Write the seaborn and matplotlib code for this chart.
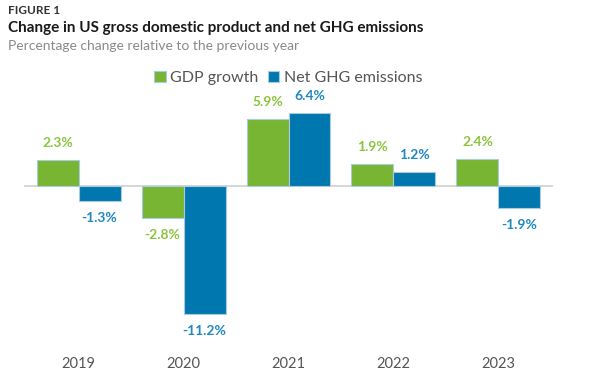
import pandas as pd
import matplotlib.pyplot as plt
import seaborn as sns

years = ['2019', '2020', '2021', '2022', '2023']
gdp_growth = [2.3, -2.8, 5.9, 1.9, 2.4]
ghg_change = [-1.3, -11.2, 6.4, 1.2, -1.9]

df = pd.DataFrame({
    'year': years * 2,
    'value': gdp_growth + ghg_change,
    'series': ['GDP growth'] * len(years) + ['Net GHG emissions'] * len(years),
})

green = '#77b533'
blue = '#0077ae'
label_colors = ['#8cc43e', '#2188c0']

sns.set_style('white')
plt.rcParams['font.family'] = ['Lato', 'DejaVu Sans']

fig = plt.figure(figsize=(6.11, 3.91), dpi=100)
ax = fig.add_axes([24 / 611, 1 - 340 / 391, (553 - 24) / 611, 245 / 391])

sns.barplot(data=df, x='year', y='value', hue='series',
            palette=[green, blue], saturation=1, width=0.8, ax=ax,
            edgecolor='#a9cbe0', linewidth=0.8)

for cont, col in zip(ax.containers, label_colors):
    ax.bar_label(cont, labels=[f'{v:.1f}%' for v in cont.datavalues],
                 color=col, fontsize=10, fontweight='bold', padding=8)

ax.axhline(0, color='#d0d0d0', lw=1.2, zorder=0)
ax.set_xlim(-0.52, 4.52)
ax.set_ylim(-13.5, 7.98)
ax.set_yticks([])
ax.set_xlabel('')
ax.set_ylabel('')
sns.despine(ax=ax, left=True, bottom=True)
ax.tick_params(axis='x', length=0, pad=12, labelsize=10.5, labelcolor='#555555')

ax.legend(loc='lower center', bbox_to_anchor=(0.5, 1.0), ncol=2, frameon=False,
          fontsize=11.5, handlelength=0.7, handleheight=0.7, handletextpad=0.3,
          columnspacing=0.6, labelcolor='#555555', borderaxespad=0.2)

fig.text(8 / 611, 1 - 11 / 391, 'FIGURE 1', fontsize=8.5, fontweight='bold',
         color='#333333', va='center')
fig.text(8 / 611, 1 - 28 / 391, 'Change in US gross domestic product and net GHG emissions',
         fontsize=11, fontweight='bold', color='#1a1a1a', va='center')
fig.text(8 / 611, 1 - 46 / 391, 'Percentage change relative to the previous year',
         fontsize=10, color='#8a8a8a', va='center')

fig.savefig('out.png', dpi=100)
